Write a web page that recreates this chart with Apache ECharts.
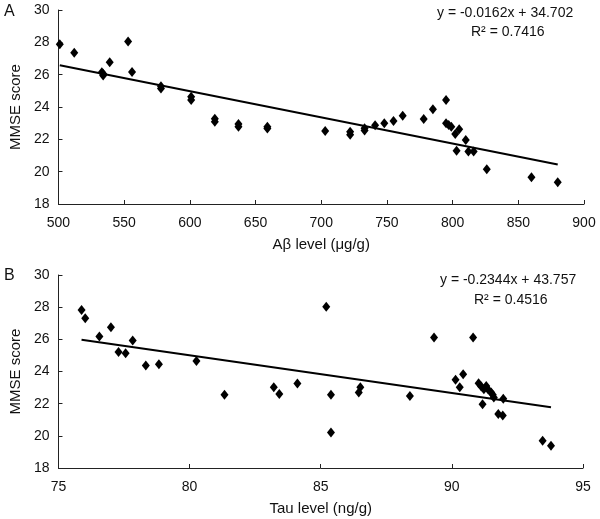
<!DOCTYPE html>
<html>
<head>
<meta charset="utf-8">
<script src="https://cdn.jsdelivr.net/npm/echarts@6/dist/echarts.min.js"></script>
<style>html,body{margin:0;padding:0;background:#fff}#c{width:600px;height:519px}</style>
</head>
<body>
<div id="c"></div>
<script>
// Panel A: Aβ level vs MMSE
const abeta = [501,512,533,534,534,539,553,556,578,578,601,601,619,619,637,637,659,659,703,722,722,733,733,741,748,755,762,778,785,795,795,797,799,802,805,803,810,812,816,826,860,880];
const mmseA = [27.88,27.35,26.15,25.95,26.05,26.77,28.05,26.17,25.28,25.15,24.64,24.43,23.28,23.08,22.95,22.78,22.78,22.67,22.52,22.47,22.28,22.68,22.54,22.87,23.0,23.14,23.46,23.26,23.86,24.43,23.0,22.89,22.78,22.33,22.62,21.3,21.96,21.24,21.24,20.15,19.65,19.34];
// Panel B: Tau level vs MMSE
const tau = [75.88,76.02,76.56,77.0,77.29,77.56,77.83,78.33,78.83,80.26,81.33,83.21,83.42,84.11,85.21,85.39,85.39,86.45,86.51,88.4,89.32,90.81,90.14,90.43,90.3,91.02,91.12,91.22,91.31,91.39,91.5,91.56,91.6,91.17,91.96,91.77,91.94,93.46,93.78];
const mmseB = [27.83,27.31,26.17,26.75,25.22,25.14,25.92,24.37,24.45,24.66,22.55,23.02,22.6,23.25,28.03,22.55,20.2,22.69,23.02,22.48,26.11,26.11,23.48,23.83,23.02,23.27,23.06,22.9,23.1,22.86,22.69,22.55,22.38,21.97,22.3,21.35,21.26,19.69,19.38];
// Regression fits
const fitA = {slope: -0.0162, intercept: 34.702, r2: '0.7416'};
const fitB = {slope: -0.2344, intercept: 43.757, r2: '0.4516'};
const yTicks = [18,20,22,24,26,28,30];

function pairs(xs, ys){ return xs.map((x,i)=>[x, ys[i]]); }
function trend(xs, f){
  const lo = Math.min(...xs), hi = Math.max(...xs);
  return [[lo, f.slope*lo + f.intercept],[hi, f.slope*hi + f.intercept]];
}
function eqText(f){
  return 'y = ' + f.slope.toFixed(4) + 'x + ' + f.intercept.toFixed(3);
}

const FONT = 'Liberation Sans, Arial, sans-serif';
const axisLine = {lineStyle:{color:'#222', width:1}};
const axisTick = {inside:true, length:4, lineStyle:{color:'#222'}};
const axisLabel = {color:'#111', fontSize:14, fontFamily:FONT};
const nameStyle = {color:'#111', fontSize:15, fontFamily:FONT};

function xAx(idx, min, max, interval, name){
  return {gridIndex:idx, type:'value', min, max, interval, name, nameLocation:'middle', nameGap:33,
    nameTextStyle:nameStyle, axisLine:{show:true, onZero:false, ...axisLine}, axisTick, axisLabel:{...axisLabel, margin:12}, splitLine:{show:false}};
}
function yAx(idx){
  return {gridIndex:idx, type:'value', min:yTicks[0], max:yTicks[yTicks.length-1], interval:2, name:'MMSE score', nameLocation:'middle', nameGap:31,
    nameTextStyle:nameStyle, axisLine:{show:true, ...axisLine}, axisTick, axisLabel:{...axisLabel, margin:9}, splitLine:{show:false}};
}

const chart = echarts.init(document.getElementById('c'), null, {renderer:'canvas'});
chart.setOption({
  animation:false,
  backgroundColor:'#fff',
  grid:[
    {left:50, top:10, right:16, height:194},
    {left:51, top:275, right:17, height:193}
  ],
  xAxis:[xAx(0,500,900,50,'Aβ level (μg/g)'), xAx(1,75,95,5,'Tau level (ng/g)')],
  yAxis:[yAx(0), yAx(1)],
  graphic:[
    {type:'text', left:4, top:4, style:{text:'A', font:'16px '+FONT, fill:'#111'}},
    {type:'text', left:4, top:268, style:{text:'B', font:'16px '+FONT, fill:'#111'}},
    {type:'text', left:437, top:6, style:{text:eqText(fitA), font:'14px '+FONT, fill:'#111'}},
    {type:'text', left:471, top:25, style:{text:'R² = '+fitA.r2, font:'14px '+FONT, fill:'#111'}},
    {type:'text', left:440, top:273, style:{text:eqText(fitB), font:'14px '+FONT, fill:'#111'}},
    {type:'text', left:474, top:293, style:{text:'R² = '+fitB.r2, font:'14px '+FONT, fill:'#111'}}
  ],
  series:[
    {type:'scatter', xAxisIndex:0, yAxisIndex:0, data:pairs(abeta, mmseA), symbol:'diamond', symbolSize:[8,10], itemStyle:{color:'#000', opacity:1}},
    {type:'line', xAxisIndex:0, yAxisIndex:0, data:trend(abeta, fitA), symbol:'none', lineStyle:{color:'#000', width:2}},
    {type:'scatter', xAxisIndex:1, yAxisIndex:1, data:pairs(tau, mmseB), symbol:'diamond', symbolSize:[8,10], itemStyle:{color:'#000', opacity:1}},
    {type:'line', xAxisIndex:1, yAxisIndex:1, data:trend(tau, fitB), symbol:'none', lineStyle:{color:'#000', width:2}}
  ]
});
</script>
</body>
</html>
